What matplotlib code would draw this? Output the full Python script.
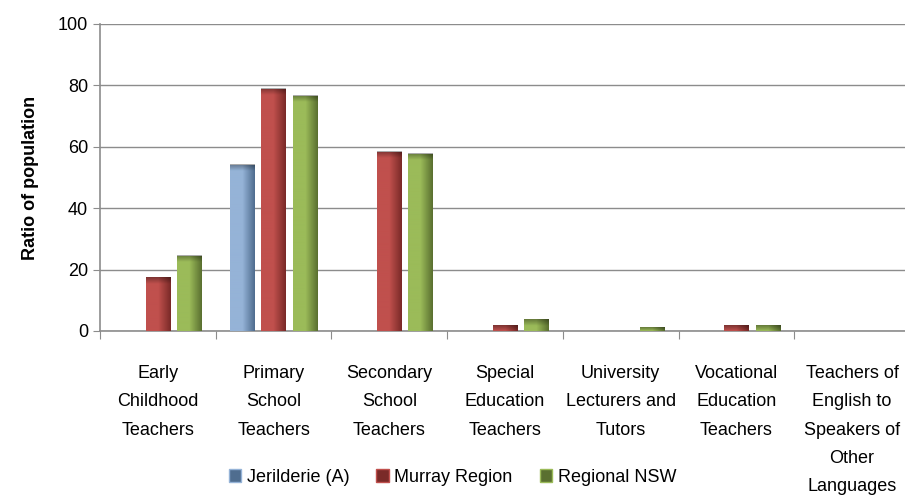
import matplotlib.pyplot as plt
import numpy as np
from matplotlib.colors import LinearSegmentedColormap
from matplotlib.patches import Patch

categories = ['Early\nChildhood\nTeachers', 'Primary\nSchool\nTeachers', 'Secondary\nSchool\nTeachers',
              'Special\nEducation\nTeachers', 'University\nLecturers and\nTutors', 'Vocational\nEducation\nTeachers',
              'Teachers of\nEnglish to\nSpeakers of\nOther\nLanguages']
series = ['Jerilderie (A)', 'Murray Region', 'Regional NSW']
jerilderie = [0, 54, 0, 0, 0, 0, 0]
murray = [17.3, 78.8, 58.3, 1.9, 0, 1.9, 0]
nsw = [24.4, 76.5, 57.6, 3.6, 1.1, 1.9, 0]

light = ['#95B3D7', '#C0504D', '#9BBB59']
dark = ['#4F6D8F', '#7A2A28', '#5A7030']

plt.rcParams['font.family'] = ['Liberation Sans Narrow', 'Liberation Sans', 'DejaVu Sans']

fig = plt.figure(figsize=(9.05, 4.96), dpi=100)
ax = fig.add_axes([0.1105, 0.3327, 0.895, 0.619])

x = np.arange(len(categories))
offsets = [-0.27, 0.0, 0.27]
width = 0.21
for vals, off, lc, dc in zip([jerilderie, murray, nsw], offsets, light, dark):
    bars = ax.bar(x + off, vals, width, color=lc, zorder=2)
    cmap = LinearSegmentedColormap.from_list('g', [lc, lc, dc])
    for b in bars:
        h = b.get_height()
        if h <= 0:
            b.set_visible(False)
            continue
        x0 = b.get_x()
        w = b.get_width()
        ax.imshow(np.linspace(0, 1, 50).reshape(1, -1), cmap=cmap, aspect='auto',
                  extent=(x0, x0 + w, 0, h), zorder=3)
        top = np.linspace(1, 0, 20).reshape(-1, 1) * np.ones((1, 50))
        ax.imshow(top, cmap=LinearSegmentedColormap.from_list('t', [(0, 0, 0, 0), (0, 0, 0, 0.35)]),
                  aspect='auto', extent=(x0, x0 + w, max(h - 2.0, 0), h), zorder=4)

ax.set_xlim(-0.5, 6.5)
ax.set_ylim(0, 100)
ax.set_yticks(range(0, 101, 20))
ax.yaxis.grid(True, color='#8C8C8C', linewidth=1)
ax.set_axisbelow(True)
ax.set_xticks(np.arange(-0.5, 7, 1))
ax.set_xticklabels([])
ax.set_xticks(x, minor=True)
ax.set_xticklabels(categories, minor=True, fontsize=13, linespacing=1.87)
ax.tick_params(axis='x', which='minor', length=0, pad=24.5)
ax.tick_params(axis='x', which='major', length=6, color='#8C8C8C')
ax.tick_params(axis='y', length=5, color='#8C8C8C', labelsize=13)
for s in ['top', 'right']:
    ax.spines[s].set_visible(False)
for s in ['left', 'bottom']:
    ax.spines[s].set_color('#8C8C8C')
    ax.spines[s].set_linewidth(1.2)
ax.set_ylabel('Ratio of population', fontsize=13, fontweight='bold', labelpad=14)

handles = [Patch(facecolor=d, edgecolor=l) for l, d in zip(light, dark)]
fig.legend(handles, series, loc='center', bbox_to_anchor=(0.5, 0.038), ncol=3, frameon=False,
           fontsize=13, handlelength=0.7, handleheight=0.7, columnspacing=1.5, handletextpad=0.3)

fig.savefig('out.png', dpi=100)
